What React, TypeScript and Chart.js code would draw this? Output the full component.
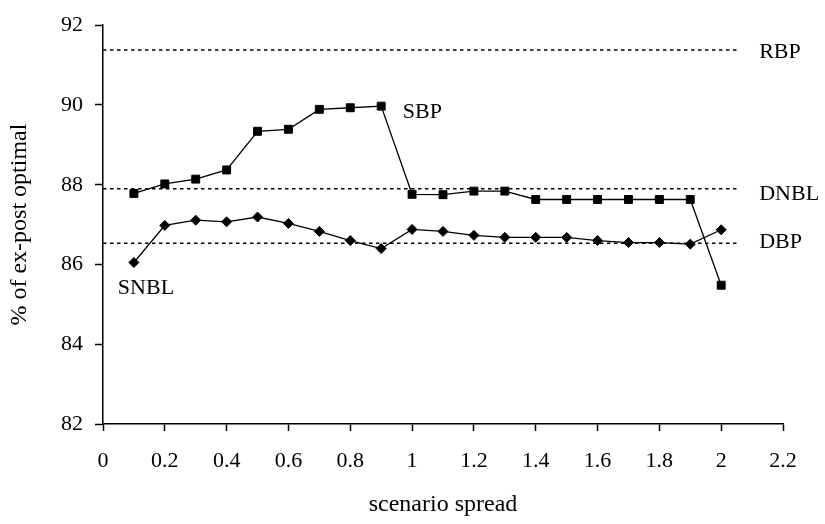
import React, { useEffect, useRef } from "react";
import { Chart, registerables } from "chart.js";

Chart.register(...registerables);

// Scenario spread values on the x axis
const spreads = [0.1, 0.2, 0.3, 0.4, 0.5, 0.6, 0.7, 0.8, 0.9, 1.0, 1.1, 1.2, 1.3, 1.4, 1.5, 1.6, 1.7, 1.8, 1.9, 2.0];

// % of ex-post optimal for the stochastic models
const sbpValues = [87.78, 88.02, 88.14, 88.37, 89.34, 89.39, 89.89, 89.93, 89.97, 87.76, 87.75, 87.84, 87.84, 87.63, 87.63, 87.63, 87.63, 87.63, 87.63, 85.48];
const snblValues = [86.05, 86.98, 87.11, 87.07, 87.19, 87.03, 86.83, 86.60, 86.40, 86.88, 86.83, 86.73, 86.68, 86.68, 86.68, 86.60, 86.55, 86.55, 86.51, 86.87];

// Deterministic / reference benchmarks (constant across spreads)
const rbpLevel = 91.38;
const dnblLevel = 87.9;
const dbpLevel = 86.53;
const benchmarkSpan = [0, 2.06];

const FONT_FAMILY = "'Liberation Serif', 'Times New Roman', serif";
const TICK_SIZE = 22;
const TITLE_SIZE = 24;
const NOTE_SIZE = 22;

const toPoints = (xs: number[], ys: number[]) => xs.map((x, i) => ({ x, y: ys[i] }));
const flatLine = (level: number) => benchmarkSpan.map((x) => ({ x, y: level }));

// Text annotations placed in data coordinates
const annotations = [
  { text: "SBP", x: 0.97, y: 89.82, align: "left" },
  { text: "SNBL", x: 0.139, y: 85.41, align: "center" },
  { text: "RBP", x: 2.123, y: rbpLevel - 0.07, align: "left" },
  { text: "DNBL", x: 2.123, y: dnblLevel - 0.14, align: "left" },
  { text: "DBP", x: 2.123, y: dbpLevel + 0.02, align: "left" },
];

const annotationPlugin = {
  id: "seriesAnnotations",
  afterDatasetsDraw(chart: any) {
    const { ctx, scales } = chart;
    ctx.save();
    ctx.font = `${NOTE_SIZE}px ${FONT_FAMILY}`;
    ctx.fillStyle = "#000";
    ctx.textBaseline = "middle";
    for (const a of annotations) {
      ctx.textAlign = a.align as CanvasTextAlign;
      ctx.fillText(a.text, scales.x.getPixelForValue(a.x), scales.y.getPixelForValue(a.y));
    }
    ctx.restore();
  },
};

export default function App() {
  const canvasRef = useRef<HTMLCanvasElement | null>(null);

  useEffect(() => {
    if (!canvasRef.current) return;
    const benchmarkStyle = {
      borderColor: "#000",
      borderWidth: 1.5,
      borderDash: [3.5, 3.5],
      pointRadius: 0,
      fill: false,
    };
    const chart = new Chart(canvasRef.current, {
      type: "line",
      data: {
        datasets: [
          { label: "RBP", data: flatLine(rbpLevel), ...benchmarkStyle },
          { label: "DNBL", data: flatLine(dnblLevel), ...benchmarkStyle },
          { label: "DBP", data: flatLine(dbpLevel), ...benchmarkStyle },
          {
            label: "SBP",
            data: toPoints(spreads, sbpValues),
            borderColor: "#000",
            borderWidth: 1.3,
            backgroundColor: "#000",
            pointStyle: "rect",
            pointRadius: 5.6,
            pointBorderWidth: 1,
            pointBackgroundColor: "#000",
            pointBorderColor: "#000",
            tension: 0,
          },
          {
            label: "SNBL",
            data: toPoints(spreads, snblValues),
            borderColor: "#000",
            borderWidth: 1.3,
            backgroundColor: "#000",
            pointStyle: "rectRot",
            pointRadius: 5,
            pointBorderWidth: 1,
            pointBackgroundColor: "#000",
            pointBorderColor: "#000",
            tension: 0,
          },
        ],
      },
      options: {
        animation: false,
        responsive: false,
        maintainAspectRatio: false,
        layout: { padding: { left: 0, top: 13.5, right: 42, bottom: 0 } },
        plugins: {
          legend: { display: false },
          tooltip: { enabled: false },
        },
        scales: {
          x: {
            type: "linear",
            min: 0,
            max: 2.2,
            ticks: {
              stepSize: 0.2,
              color: "#000",
              font: { family: FONT_FAMILY, size: TICK_SIZE },
              padding: 17,
              maxRotation: 0,
              callback: (v: any) => String(Number(Number(v).toFixed(1))),
            },
            grid: { drawOnChartArea: false, drawTicks: true, tickLength: 7, tickColor: "#000", tickWidth: 1.5 },
            border: { display: true, color: "#000", width: 1.5 },
            title: {
              display: true,
              text: "scenario spread",
              color: "#000",
              font: { family: FONT_FAMILY, size: TITLE_SIZE },
              padding: { top: 0, bottom: 5 },
            },
            afterFit: (scale: any) => {
              scale.height = 100;
            },
          },
          y: {
            min: 82,
            max: 92,
            ticks: {
              stepSize: 2,
              color: "#000",
              font: { family: FONT_FAMILY, size: TICK_SIZE },
              padding: 12,
            },
            grid: { drawOnChartArea: false, drawTicks: true, tickLength: 8, tickColor: "#000", tickWidth: 1.5 },
            border: { display: true, color: "#000", width: 1.5 },
            title: {
              display: true,
              text: "% of ex-post optimal",
              color: "#000",
              font: { family: FONT_FAMILY, size: TITLE_SIZE },
              padding: { top: 5.5, bottom: 0 },
            },
            afterFit: (scale: any) => {
              scale.width = 103;
            },
          },
        },
      },
      plugins: [annotationPlugin],
    });
    return () => chart.destroy();
  }, []);

  return (
    <div style={{ position: "absolute", left: 0, top: 0, width: 825, height: 524, background: "#fff" }}>
      <canvas ref={canvasRef} width={825} height={524} style={{ display: "block" }} />
    </div>
  );
}
